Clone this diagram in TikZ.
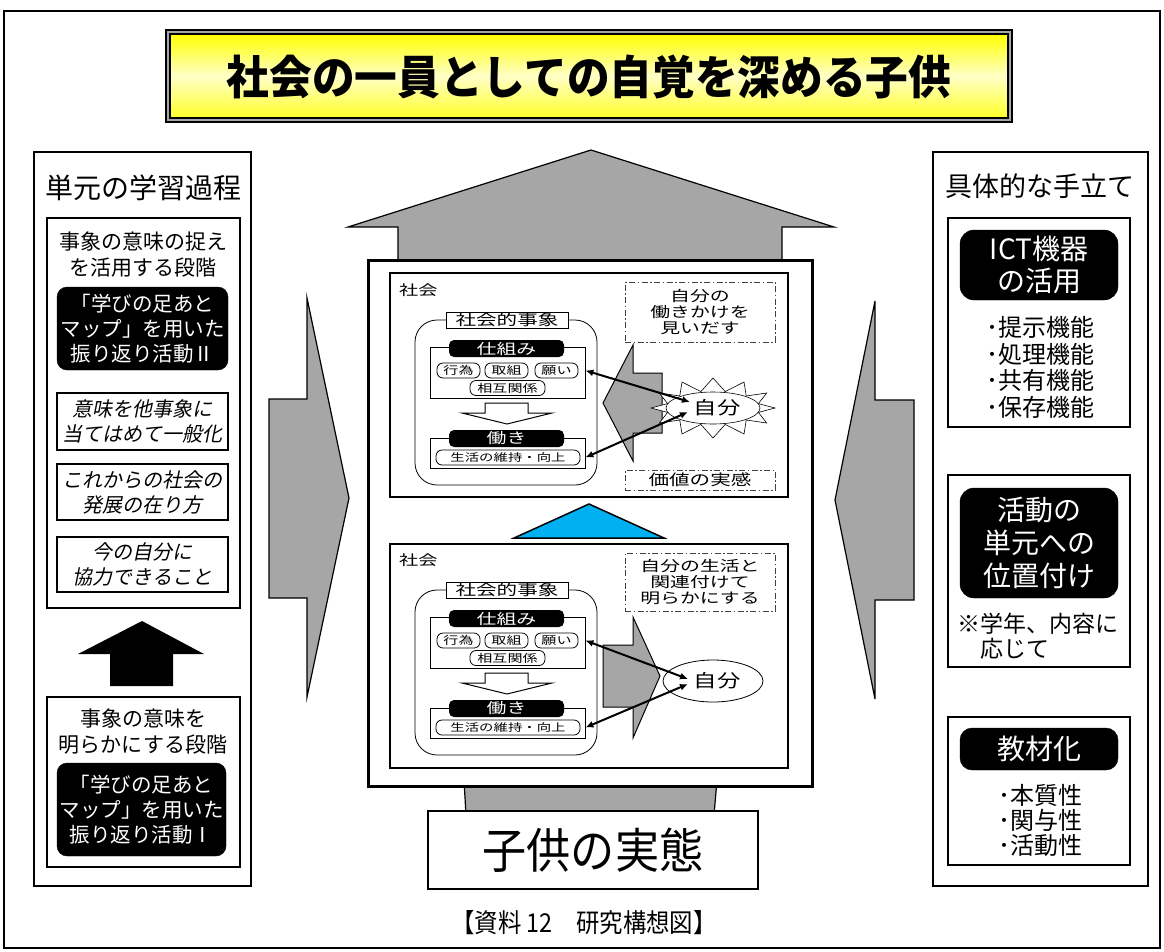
\documentclass[tikz,border=0pt]{standalone}
\usepackage{fontspec}
\setmainfont{Noto Sans CJK JP}
\newfontfamily\slantfont[FakeSlant=0.2]{Noto Sans CJK JP}
\usepackage{graphicx}
\usetikzlibrary{arrows.meta,shapes.geometric}
\definecolor{agray}{RGB}{166,166,166}
\definecolor{tricyan}{RGB}{0,176,240}
\newcommand\fsz[2]{\fontsize{#1}{#2}\selectfont}
\newcommand\wl[1]{\scalebox{1.37}[1]{#1}}
\tikzset{
  sz/.style 2 args={minimum width=#1, minimum height=#2, inner sep=0pt},
  colbox/.style={draw, line width=2.4, fill=white},
  subbox/.style={draw, line width=1.8, fill=white},
  blackbox/.style={fill=black, draw=black, rounded corners=10, text=white, align=center},
  ibox/.style={draw, line width=1.4, fill=white, align=center},
  garrow/.style={fill=agray, draw=black, line width=1.2, line join=miter},
  panel/.style={draw, line width=2, fill=white},
  thinbox/.style={draw, line width=0.8, fill=white},
  pill/.style={draw, line width=0.8, fill=white, rounded corners=6},
  lab/.style={fill=black, rounded corners=5, text=white},
  dd/.style={draw=black!75, line width=1, dash pattern=on 6pt off 2.5pt on 1.5pt off 2.5pt, align=center},
  dbl/.style={line width=2, {Latex[length=8pt,width=7pt]}-{Latex[length=8pt,width=7pt]}},
  txt/.style={inner sep=0pt, align=center},
}
\begin{document}
\begin{tikzpicture}[x=1pt,y=-1pt]
\useasboundingbox (0,0) rectangle (1164,951);
\fill[white] (0,0) rectangle (1164,951);
\draw[line width=1.2] (4,11) rectangle (1160,948);

% ---------- title ----------
\node[draw, line width=2.5, fill=black!35, sz={846}{92}] (titleout) at (589,76) {};
\node[draw, line width=1.2, sz={838}{84}, top color={rgb,255:red,255;green,255;blue,0},
      bottom color={rgb,255:red,255;green,255;blue,40}, middle color={rgb,255:red,255;green,255;blue,200}] (titlein) at (589,76) {};
\node[txt, font=\fsz{44}{44}\bfseries] (title) at (589,77) {\scalebox{0.97}[1.05]{社会の一員としての自覚を深める子供}};

% ---------- big gray arrows ----------
\draw[garrow] (398,262) -- (398,227) -- (348,227) -- (591,150) -- (834,227) -- (782,227) -- (782,262);
\draw[garrow] (464,780) -- (466,815) -- (714,815) -- (717,780);
\draw[garrow] (269,399) -- (307,399) -- (307,298) -- (349,498) -- (307,697) -- (307,598) -- (269,598) -- cycle;
\draw[garrow] (914,400) -- (875,400) -- (875,301) -- (835,500) -- (875,699) -- (875,600) -- (914,600) -- cycle;

% ---------- center box ----------
\node[draw, line width=3, fill=white, sz={444}{526}] (center) at (590,523) {};
\node[panel, sz={398}{224}] (panelU) at (589,385) {};
\node[panel, sz={398}{224}] (panelL) at (589,656) {};
\draw[fill=tricyan, draw=black, line width=1.5, line join=miter] (514,538) -- (589,504) -- (664,538) -- cycle;

% panel left clusters
\foreach \dy/\s in {0/U,270/L}{
  \node[txt, anchor=west, font=\fsz{14}{14}] (shakai\s) at (399,{290+\dy}) {\wl{社会}};
  \node[thinbox, rounded corners=22, sz={182}{165}] (cont\s) at (506,{402.5+\dy}) {};
  \node[thinbox, sz={122}{16}, font=\fsz{15}{15}] (label\s) at (507,{320+\dy}) {\wl{社会的事象}};
  \node[thinbox, sz={155}{51}] (shikumi\s) at (507.5,{372.5+\dy}) {};
  \node[lab, sz={115}{17}, font=\fsz{14.5}{15}] (shikumilab\s) at (506.5,{348.5+\dy}) {\wl{仕組み}};
  \node[pill, sz={43}{15}, font=\fsz{11}{11}] (koi\s) at (458.5,{370.5+\dy}) {\wl{行為}};
  \node[pill, sz={43}{15}, font=\fsz{11}{11}] (torikumi\s) at (506.5,{370.5+\dy}) {\wl{取組}};
  \node[pill, sz={43}{15}, font=\fsz{11}{11}] (negai\s) at (556.5,{370.5+\dy}) {\wl{願い}};
  \node[pill, sz={75}{15}, font=\fsz{11}{11}] (sogo\s) at (507.5,{388+\dy}) {\wl{相互関係}};
  \draw[line width=1, fill=white] (485,{403+\dy}) -- (528,{403+\dy}) -- (528,{413+\dy}) -- (552,{413+\dy}) -- (507,{424+\dy}) -- (462,{413+\dy}) -- (485,{413+\dy}) -- cycle;
  \node[thinbox, sz={155}{30}] (hataraki\s) at (507.5,{453+\dy}) {};
  \node[lab, sz={115}{17}, font=\fsz{14.5}{15}] (hatarakilab\s) at (506.5,{438.5+\dy}) {\wl{働き}};
  \node[pill, sz={144}{15}, font=\fsz{10.5}{11}] (seikatsu\s) at (508,{457.5+\dy}) {\wl{生活の維持・向上}};
}

% upper panel right part
\draw[garrow, line width=1] (662,373) -- (633,373) -- (633,345) -- (603,403) -- (633,461) -- (633,433) -- (662,433) -- cycle;
\filldraw[fill=white, draw=black, line width=0.6] plot[domain=0:23, samples=24, variable=\t]
  ({713+(mod(round(\t),2)==0 ? 62 : 47)*cos(\t*15)}, {408+(mod(round(\t),2)==0 ? 30 : 17)*sin(\t*15)}) -- cycle;
\node[ellipse, draw, line width=0.6, fill=white, sz={94}{32}] (selfU) at (713,408) {};
\node[txt, font=\fsz{18}{18}] (selfUt) at (717,408) {\scalebox{1.3}[1]{自分}};
\node[dd, sz={150}{60}, font=\fsz{14.5}{16}] (ddU1) at (700,312) {\wl{自分の}\\\wl{働きかけを}\\\wl{見いだす}};
\node[dd, sz={150}{20}, font=\fsz{15}{15}] (ddU2) at (700,480) {\wl{価値の実感}};
\coordinate (aU1) at (690,402);
\coordinate (aU2) at (688,412);
\draw[dbl] (shikumiU.east |- negaiU) -- (aU1);
\draw[dbl] (hatarakiU.east |- seikatsuU) -- (aU2);

% lower panel right part
\draw[garrow, line width=1] (603,645) -- (633,645) -- (633,617) -- (660,676) -- (633,738) -- (633,707) -- (603,707) -- cycle;
\node[ellipse, draw, line width=0.8, fill=white, sz={100}{42}] (selfL) at (713,681) {};
\node[txt, font=\fsz{18}{18}] (selfLt) at (717,681) {\scalebox{1.3}[1]{自分}};
\node[dd, sz={150}{58}, font=\fsz{14.5}{16}] (ddL) at (700,582) {\wl{自分の生活と}\\\wl{関連付けて}\\\wl{明らかにする}};
\coordinate (aL1) at (688,679);
\coordinate (aL2) at (688,684);
\draw[dbl] (shikumiL.east |- negaiL) -- (aL1);
\draw[dbl] (hatarakiL.east |- seikatsuL) -- (aL2);

% ---------- bottom ----------
\node[draw, line width=2.5, fill=white, sz={330}{78}, font=\fsz{48}{48}] (jittai) at (593,850) {\scalebox{0.92}[1]{子供の実態}};
\node[txt, font=\fsz{26}{26}] (caption) at (584,923) {\scalebox{0.9}[1]{【資料 12　研究構想図】}};

% ---------- left column ----------
\node[colbox, sz={217}{734}] (leftcol) at (142.5,519) {};
\node[txt, font=\fsz{28}{28}] (lefttitle) at (143,188) {単元の学習過程};
\node[subbox, sz={193}{390}] (stage2) at (143.5,413) {};
\node[txt, font=\fsz{21}{26}] (stage2t) at (143,255) {事象の意味の捉え\\を活用する段階};
\node[blackbox, sz={171}{83}, font=\fsz{20.5}{25}] (act2) at (142.5,328.5) {「学びの足あと\\マップ」を用いた\\振り返り活動Ⅱ};
\node[ibox, sz={171}{57}, font=\slantfont\fsz{20}{25}] (ib1) at (142.5,421.5) {意味を他事象に\\当てはめて一般化};
\node[ibox, sz={171}{56}, font=\slantfont\fsz{20}{25}] (ib2) at (142.5,492) {これからの社会の\\発展の在り方};
\node[ibox, sz={171}{55}, font=\slantfont\fsz{20}{25}] (ib3) at (142.5,564.5) {今の自分に\\協力できること};
\fill[black] (142,621) -- (204,654) -- (173,654) -- (173,686) -- (110,686) -- (110,654) -- (78,654) -- cycle;
\node[subbox, sz={193}{170}] (stage1) at (143.5,782) {};
\node[txt, font=\fsz{21}{26}] (stage1t) at (143,732) {事象の意味を\\明らかにする段階};
\node[blackbox, sz={169}{93}, font=\fsz{20.5}{25}] (act1) at (141.5,809.5) {「学びの足あと\\マップ」を用いた\\振り返り活動Ⅰ};

% ---------- right column ----------
\node[colbox, sz={215}{734}] (rightcol) at (1040.5,519) {};
\node[txt, font=\fsz{27}{27}] (righttitle) at (1040,186) {具体的な手立て};
\node[subbox, sz={182}{209}] (rb1) at (1039,322.5) {};
\node[blackbox, sz={158}{70}, rounded corners=14, font=\fsz{28}{32}] (ict) at (1039,265) {ICT機器\\の活用};
\node[txt, align=left, font=\fsz{24}{26.5}] (ictitems) at (1040,367.5) {･提示機能\\･処理機能\\･共有機能\\･保存機能};
\node[subbox, sz={182}{192}] (rb2) at (1039,571) {};
\node[blackbox, sz={158}{110}, rounded corners=14, font=\fsz{28}{33}] (katsudo) at (1039,543) {活動の\\単元への\\位置付け};
\node[txt, align=left, anchor=west, font=\fsz{23}{25}] (note) at (957,636.5) {※学年、内容に\\　応じて};
\node[subbox, sz={182}{148}] (rb3) at (1039,791) {};
\node[blackbox, sz={158}{42}, rounded corners=12, font=\fsz{28}{28}] (kyozai) at (1039,749) {教材化};
\node[txt, align=left, font=\fsz{24}{25}] (kyozaiitems) at (1040,820) {･本質性\\･関与性\\･活動性};
\end{tikzpicture}
\end{document}
